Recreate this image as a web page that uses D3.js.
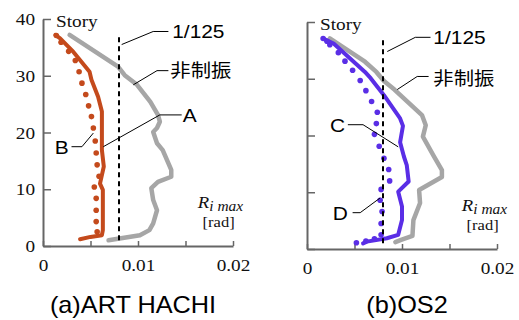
<!DOCTYPE html>
<html>
<head>
<meta charset="utf-8">
<script src="https://cdn.jsdelivr.net/npm/d3@7"></script>
<style>
  body { margin: 0; background: #fff; }
  svg { display: block; }
</style>
</head>
<body>
<svg id="chart" width="519" height="320"></svg>
<script>
// 軸の目盛り
const driftTicks = [0, 0.005, 0.01, 0.015, 0.02];
const driftLabels = { 0: "0", 0.01: "0.01", 0.02: "0.02" };
const storyTicks = [0, 10, 20, 30, 40];
const limitDrift = 0.008;          // 1/125
const limitStories = [1, 37.5];

// (a) ART HACHI  [層間変形角, 層]
const artUncontrolled = [[0.0069,1.0],[0.0102,1.9],[0.0112,2.8],[0.0116,4.0],[0.0120,6.3],[0.0116,8.1],[0.0114,10.2],[0.0121,11.3],[0.0135,12.2],[0.0135,13.4],[0.0126,16.9],[0.0120,18.1],[0.0116,20.1],[0.0120,20.8],[0.0123,21.9],[0.0121,23.1],[0.0113,25.4],[0.0099,28.4],[0.0086,30.1],[0.0079,31.6],[0.0028,37.2]];
const artA = [[0.0039,1.2],[0.0050,1.6],[0.0062,1.9],[0.0063,2.8],[0.0063,6.3],[0.0063,9.9],[0.0060,11.0],[0.0064,14.0],[0.0062,16.9],[0.0062,20.0],[0.0062,23.7],[0.0058,26.3],[0.0051,29.3],[0.0049,30.7],[0.0032,34.2],[0.0018,36.6],[0.0013,37.2]];
const artB = [[0.0057,2.5],[0.0056,4.3],[0.0056,6.3],[0.0056,8.4],[0.0054,10.4],[0.0059,12.3],[0.0057,14.3],[0.0056,16.4],[0.0055,18.5],[0.0053,20.8],[0.0051,22.8],[0.0048,24.7],[0.0045,26.7],[0.0041,28.7],[0.0038,30.7],[0.0034,32.7],[0.0027,34.3],[0.0019,35.9],[0.0014,37.1]];

// (b) OS2
const os2Uncontrolled = [[0.0093,1.2],[0.0099,1.6],[0.0111,2.3],[0.0112,5.1],[0.0119,8.1],[0.0118,10.4],[0.0142,12.7],[0.0142,13.9],[0.0133,16.5],[0.0122,19.8],[0.0125,21.8],[0.0121,23.6],[0.0092,28.1],[0.0081,29.6],[0.0073,31.2],[0.0061,33.0],[0.0024,37.1]];
const os2C = [[0.0059,1.0],[0.0063,1.3],[0.0084,1.9],[0.0096,2.5],[0.0100,5.1],[0.0100,7.5],[0.0096,10.1],[0.0107,11.9],[0.0105,14.8],[0.0102,16.3],[0.0098,18.8],[0.0101,21.7],[0.0098,23.0],[0.0081,27.1],[0.0067,30.1],[0.0061,31.2],[0.0028,36.2],[0.0017,37.1]];
const os2D = [[0.0052,1.1],[0.0062,1.4],[0.0071,1.8],[0.0078,2.5],[0.0078,4.5],[0.0079,6.6],[0.0077,8.6],[0.0078,10.5],[0.0087,12.0],[0.0086,14.0],[0.0081,16.0],[0.0076,18.1],[0.0071,20.2],[0.0073,22.1],[0.0074,24.1],[0.0068,26.0],[0.0062,27.9],[0.0056,29.7],[0.0048,31.5],[0.0040,33.1],[0.0033,34.6],[0.0024,36.0],[0.0021,36.6],[0.0017,37.1]];

// 引出線 [線の点列(データ座標), ラベル, ラベル位置, anchor, フォント]
const SERIF = '"Liberation Serif", "DejaVu Serif", serif';
const SANS = '"Liberation Sans", Arial, sans-serif';
const CJK = '"Noto Sans CJK JP", "Noto Sans CJK SC", sans-serif';

const artNotes = [
  { pts: [[0.00828,35.5],[0.0116,37.8],[0.0132,37.8]], text: "1/125", at: [0.0136,37.8], anchor: "start", font: SANS },
  { pts: [[0.0095,28.4],[0.0120,30.9],[0.0132,30.9]], text: "非制振", at: [0.0134,30.9], anchor: "start", font: CJK },
  { pts: [[0.00635,17.5],[0.0123,23.1],[0.0146,23.1]], text: "A", at: [0.0147,23.1], anchor: "start", font: SANS },
  { pts: [[0.0053,19.9],[0.0041,17.5],[0.0030,17.5]], text: "B", at: [0.0027,17.5], anchor: "end", font: SANS }
];
const os2Notes = [
  { pts: [[0.00845,34.8],[0.0114,37.3],[0.0130,37.3]], text: "1/125", at: [0.0133,37.3], anchor: "start", font: SANS },
  { pts: [[0.0095,28.1],[0.0116,30.4],[0.0128,30.4]], text: "非制振", at: [0.0133,30.1], anchor: "start", font: CJK },
  { pts: [[0.0096,18.0],[0.0059,21.9],[0.0043,21.9]], text: "C", at: [0.0040,21.9], anchor: "end", font: SANS },
  { pts: [[0.0077,9.0],[0.0056,6.4],[0.0048,6.4]], text: "D", at: [0.0043,6.4], anchor: "end", font: SANS }
];

const panels = [
  { ox: 43, oy: 246, title: "(a)ART HACHI", tx: 133, uncontrolled: artUncontrolled, solid: artA, dots: artB, color: "#c44a1c", notes: artNotes, yLabels: true },
  { ox: 307, oy: 249, title: "(b)OS2", tx: 407, uncontrolled: os2Uncontrolled, solid: os2C, dots: os2D, color: "#5a2ee6", notes: os2Notes, yLabels: false }
];

const W = 190, H = 227, SX = 1.1; // 横長の文字
const svg = d3.select("#chart");

function stretch(sel) {
  sel.attr("transform", function () {
    const x = +d3.select(this).attr("x") || 0;
    return `translate(${x * (1 - SX)},0) scale(${SX},1)`;
  });
}

panels.forEach(p => {
  const g = svg.append("g").attr("transform", `translate(${p.ox},${p.oy - H})`);
  const x = d3.scaleLinear().domain([0, 0.02]).range([0, W]);
  const y = d3.scaleLinear().domain([0, 40]).range([H, 0]);
  const line = d3.line().x(d => x(d[0])).y(d => y(d[1]));

  // 軸
  const ya = g.append("g")
    .call(d3.axisLeft(y).tickValues(storyTicks).tickSize(-8).tickSizeOuter(0).tickPadding(8)
      .tickFormat(d => p.yLabels ? d : ""));
  const xa = g.append("g").attr("transform", `translate(0,${H})`)
    .call(d3.axisBottom(x).tickValues(driftTicks).tickSize(-5).tickSizeOuter(0).tickPadding(13)
      .tickFormat(d => driftLabels[d] || ""));
  [ya, xa].forEach(a => {
    a.attr("font-family", null).attr("font-size", null);
    a.select(".domain").attr("stroke", "#666").attr("stroke-width", 2);
    a.selectAll(".tick line").attr("stroke", "#666").attr("stroke-width", 1.5);
    a.selectAll(".tick text").style("font-family", SERIF).style("font-size", "17.5px").attr("fill", "#111");
  });
  xa.selectAll(".tick text").attr("dy", "0.71em").call(stretch);
  ya.selectAll(".tick text").call(stretch);

  g.append("text").attr("x", 13).attr("y", 8)
    .style("font-family", SERIF).style("font-size", "17.5px").attr("fill", "#111").text("Story").call(stretch);

  // 単位
  const unit = g.append("text").attr("x", x(0.0163)).attr("y", y(6.7))
    .style("font-family", SERIF).style("font-size", "17px").style("font-style", "italic").attr("fill", "#111");
  unit.append("tspan").text("R");
  unit.append("tspan").attr("dy", 3).style("font-size", "14px").text("i max");
  unit.call(stretch);
  g.append("text").attr("x", x(0.0168)).attr("y", y(3.4))
    .style("font-family", SERIF).style("font-size", "15px").attr("fill", "#111").text("[rad]").call(stretch);

  // 非制振
  g.append("path").datum(p.uncontrolled).attr("d", line)
    .attr("fill", "none").attr("stroke", "#a6a6a6").attr("stroke-width", 4.5)
    .attr("stroke-linejoin", "round").attr("stroke-linecap", "round");

  // 制振 (実線)
  g.append("path").datum(p.solid).attr("d", line)
    .attr("fill", "none").attr("stroke", p.color).attr("stroke-width", 4)
    .attr("stroke-linejoin", "round").attr("stroke-linecap", "round");

  // 制振 (点)
  g.selectAll(".dot").data(p.dots).enter().append("circle")
    .attr("cx", d => x(d[0])).attr("cy", d => y(d[1])).attr("r", 2.8).attr("fill", p.color);

  // 1/125
  g.append("line")
    .attr("x1", x(limitDrift)).attr("x2", x(limitDrift))
    .attr("y1", y(limitStories[0])).attr("y2", y(limitStories[1]))
    .attr("stroke", "#000").attr("stroke-width", 2).attr("stroke-dasharray", "5,4");

  // 引出線とラベル
  p.notes.forEach(n => {
    g.append("path").datum(n.pts).attr("d", line)
      .attr("fill", "none").attr("stroke", "#000").attr("stroke-width", 1);
    g.append("text").attr("x", x(n.at[0])).attr("y", y(n.at[1]))
      .attr("dy", "0.36em").attr("text-anchor", n.anchor)
      .style("font-family", n.font).style("font-size", n.font === CJK ? "18.5px" : "19px")
      .attr("fill", "#000").text(n.text).call(stretch);
  });

  svg.append("text").attr("x", p.tx).attr("y", 313)
    .attr("text-anchor", "middle").style("font-family", SANS).style("font-size", "23px").attr("fill", "#000")
    .text(p.title).call(stretch);
});
</script>
</body>
</html>
